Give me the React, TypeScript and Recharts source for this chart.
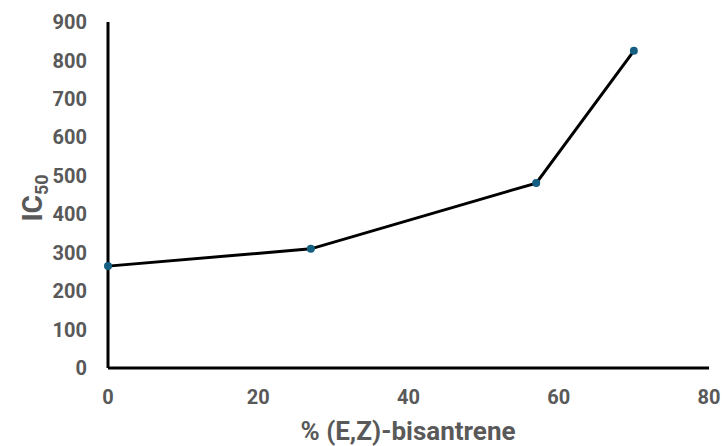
// IC50 в зависимости от доли (E,Z)-бисантрена
import React from 'react';
import { LineChart, Line, XAxis, YAxis, Label } from 'recharts';

const percentEZ = [0, 27, 57, 70];
const ic50 = [265, 310, 481, 825];
const xTicks = [0, 20, 40, 60, 80];
const yTicks = [0, 100, 200, 300, 400, 500, 600, 700, 800, 900];

const data = percentEZ.map((x, i) => ({ x, ic50: ic50[i] }));

const textGray = '#595959';
const dotColor = '#156082';
const tickStyle = { fontSize: 20, fontWeight: 700, fill: textGray, fontFamily: 'Roboto' };

const App: React.FC = () => {
  return (
    <div style={{ position: 'absolute', top: 0, left: 0, width: 722, height: 446, background: '#fff', fontFamily: 'Roboto' }}>
      <LineChart width={722} height={446} data={data} margin={{ top: 22, right: 13, left: 0, bottom: 0 }}>
        <XAxis
          type="number"
          dataKey="x"
          domain={[0, 80]}
          ticks={xTicks}
          height={78}
          tickSize={0}
          tickMargin={22}
          tick={tickStyle}
          axisLine={{ stroke: '#000', strokeWidth: 3 }}
          tickLine={false}
        >
          <Label
            content={() => (
              <text x={408} y={440} textAnchor="middle" fontSize={26} fontWeight={700} fill={textGray} fontFamily="Roboto">
                % (E,Z)-bisantrene
              </text>
            )}
          />
        </XAxis>
        <YAxis
          type="number"
          domain={[0, 900]}
          ticks={yTicks}
          width={108}
          tickSize={0}
          tickMargin={21}
          tick={tickStyle}
          axisLine={{ stroke: '#000', strokeWidth: 3 }}
          tickLine={false}
        >
          <Label
            content={() => (
              <text
                x={0}
                y={0}
                transform="translate(42 198) rotate(-90)"
                textAnchor="middle"
                fontSize={28}
                fontWeight={700}
                fill={textGray}
                fontFamily="Roboto"
              >
                IC
                <tspan fontSize={18} dy={6}>50</tspan>
              </text>
            )}
          />
        </YAxis>
        <Line
          type="linear"
          dataKey="ic50"
          stroke="#000"
          strokeWidth={3}
          dot={{ r: 4, fill: dotColor, stroke: dotColor, strokeWidth: 0 }}
          activeDot={false}
          isAnimationActive={false}
        />
      </LineChart>
    </div>
  );
};

export default App;
